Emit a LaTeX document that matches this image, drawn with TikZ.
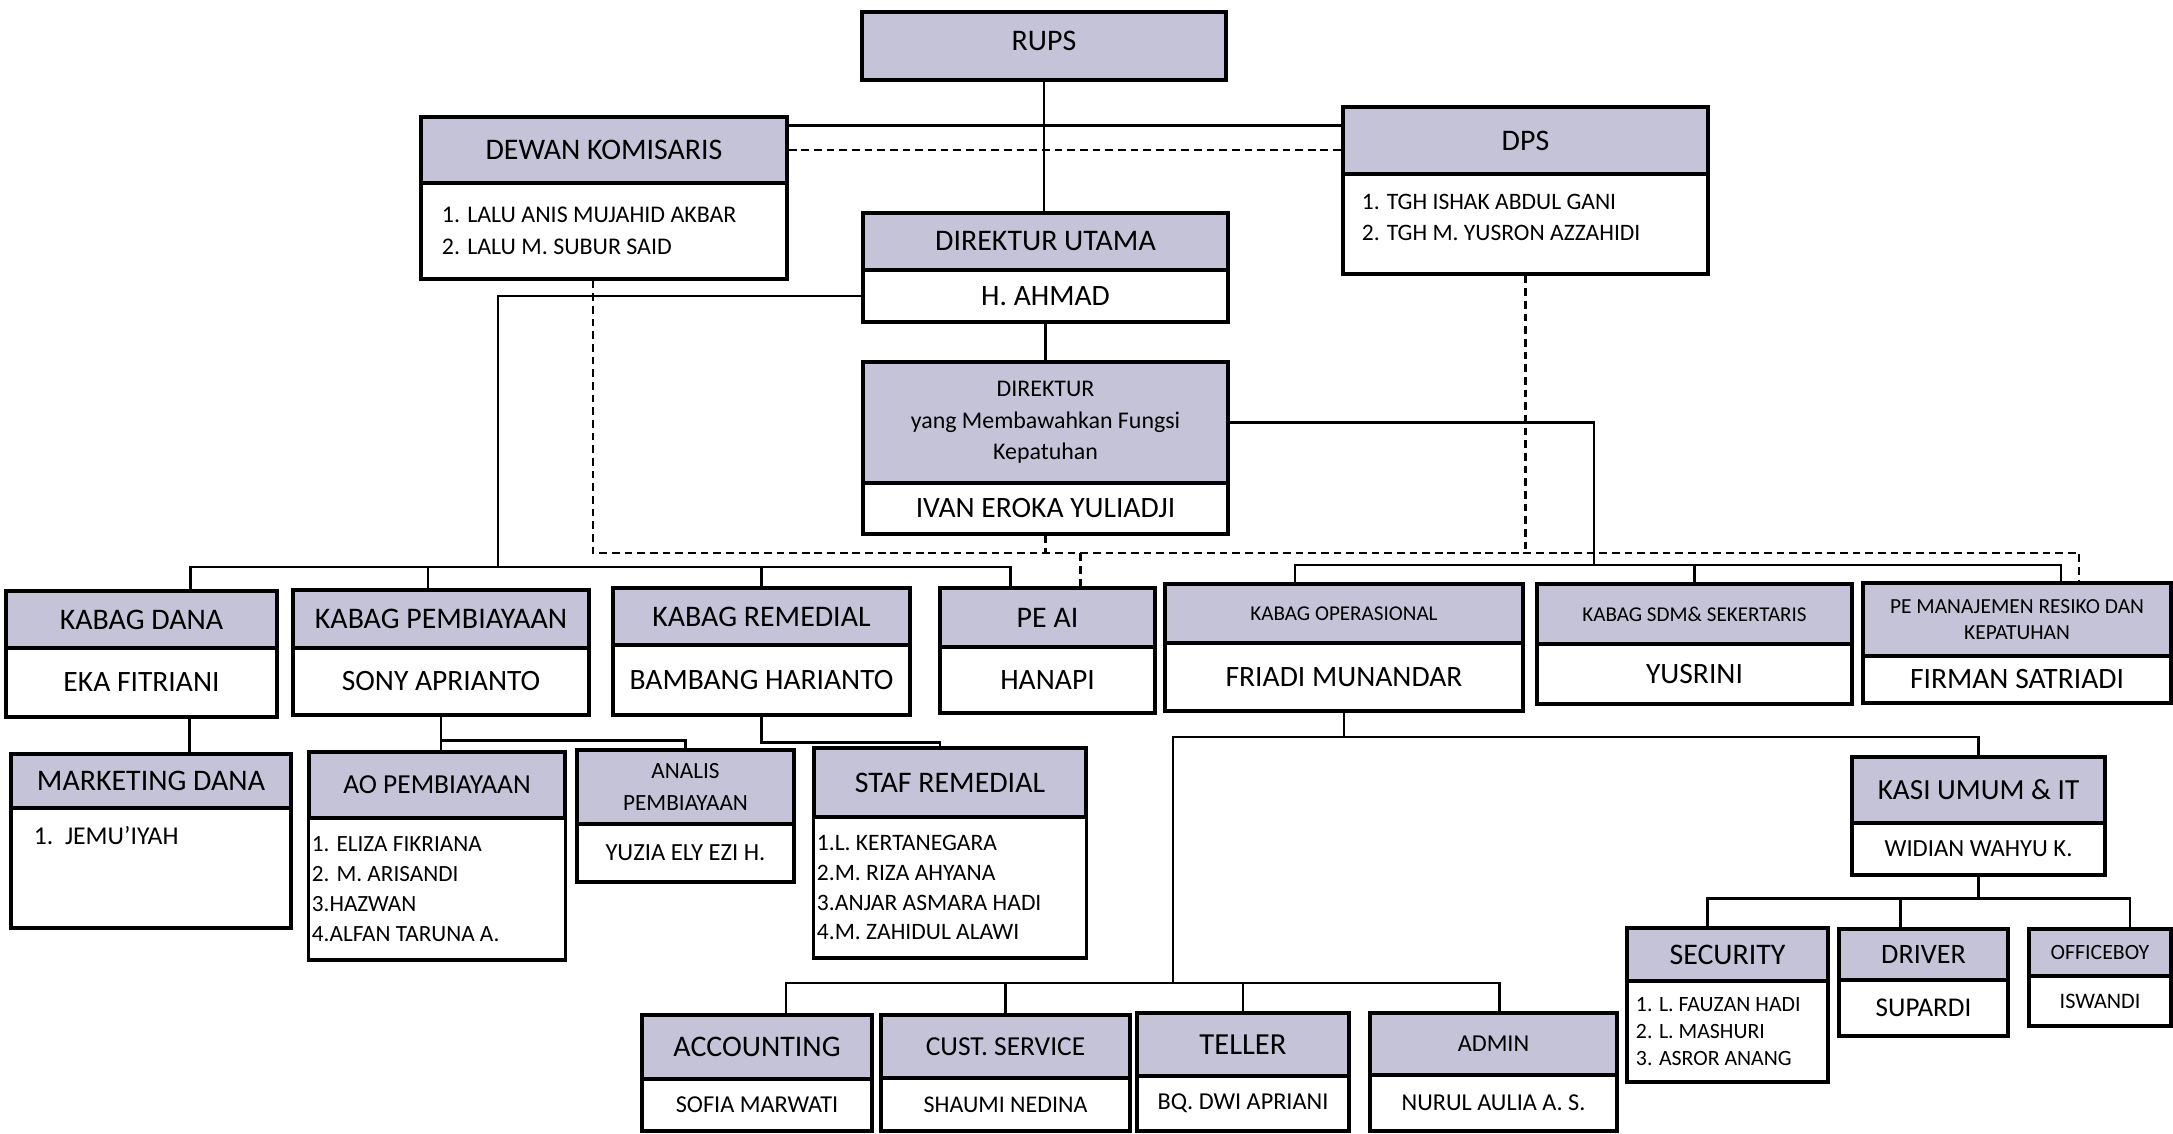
\documentclass[tikz,border=0pt]{standalone}
\usepackage{fontspec}
\setmainfont{Carlito}

\definecolor{headfill}{RGB}{197,195,215}

\tikzset{
  fs/.style 2 args={font=\fontsize{#1}{#2}\selectfont},
  hd/.style={draw, line width=1pt, fill=headfill, inner sep=1pt, align=center, fs={8.5}{10}},
  bd/.style={draw, line width=1pt, fill=white, inner sep=1pt, align=center, fs={8.4}{10}},
  lst/.style={align=flush left, text width=#1},
  headopt/.style={}, bodyopt/.style={},
  con/.style={line width=0.8pt},
  dsh/.style={line width=0.7pt, dash pattern=on 2.2pt off 1.4pt},
}

\newcommand\orgunit[9][]{%
  \begin{scope}[#1]
    \node[hd, minimum width={(#3-#2)*0.01cm}, minimum height={(#5-#4)*0.01cm}, headopt]
      (#7) at ({(#2+#3)/2},{(#4+#5)/2}) {#8};
    \node[bd, minimum width={(#3-#2)*0.01cm}, minimum height={(#6-#5)*0.01cm}, bodyopt]
      (#7b) at ({(#2+#3)/2},{(#5+#6)/2}) {#9};
  \end{scope}}

\begin{document}
\begin{tikzpicture}[x=0.01cm, y=-0.01cm]
  \useasboundingbox (0,0) rectangle (2173,1134);

  \node[hd, minimum width=3.64cm, minimum height=0.68cm, text depth=0.1cm] (rups) at (1044,46) {RUPS};
  \orgunit[bodyopt/.style={lst=3.24cm, fs={6.8}{9}}]{421}{787}{117}{183}{279}{dk}{DEWAN KOMISARIS}{1. LALU ANIS MUJAHID AKBAR\\2. LALU M. SUBUR SAID}
  \orgunit[bodyopt/.style={lst=3.27cm, fs={6.7}{9}, text depth=0.45cm}]{1343}{1708}{107}{174}{274}{dps}{DPS}{1. TGH ISHAK ABDUL GANI\\2. TGH M. YUSRON AZZAHIDI}
  \orgunit{863}{1228}{213}{270}{322}{dirut}{DIREKTUR UTAMA}{H. AHMAD}
  \orgunit[headopt/.style={fs={6.8}{9}}]{863}{1228}{362}{483}{534}{dirkep}{DIREKTUR\\yang Membawahkan Fungsi\\Kepatuhan}{IVAN EROKA YULIADJI}

  % kepala bagian
  \orgunit{6}{277}{591}{648}{717}{kdana}{KABAG DANA}{EKA FITRIANI}
  \orgunit{293}{589}{590}{648}{715}{kpemb}{KABAG PEMBIAYAAN}{SONY APRIANTO}
  \orgunit{613}{910}{588}{645}{715}{kremed}{KABAG REMEDIAL}{BAMBANG HARIANTO}
  \orgunit{940}{1155}{588}{647}{713}{peai}{PE AI}{HANAPI}
  \orgunit[headopt/.style={fs={6}{7.5}}]{1165}{1523}{584}{643}{711}{kops}{KABAG OPERASIONAL}{FRIADI MUNANDAR}
  \orgunit[headopt/.style={fs={6}{7.5}}]{1537}{1852}{584}{644}{704}{ksdm}{KABAG SDM\& SEKERTARIS}{YUSRINI}
  \orgunit[headopt/.style={fs={6.1}{7.6}}]{1863}{2171}{583}{656}{703}{pemr}{PE MANAJEMEN RESIKO DAN\\KEPATUHAN}{FIRMAN SATRIADI}

  % staf
  \orgunit[bodyopt/.style={lst=2.34cm, fs={7.3}{8}, text depth=0.65cm}]{11}{291}{754}{808}{928}{mdana}{MARKETING DANA}{1.\ \ JEMU'IYAH}
  \orgunit[headopt/.style={fs={7.8}{9}}, bodyopt/.style={lst=2.5cm, fs={6.6}{8.5}}]{309}{565}{752}{818}{960}{aopemb}{AO PEMBIAYAAN}{1. ELIZA FIKRIANA\\2. M. ARISANDI\\3.HAZWAN\\4.ALFAN TARUNA A.}
  \orgunit[headopt/.style={fs={6.6}{9}}, bodyopt/.style={fs={7}{8}}]{577}{794}{750}{824}{882}{analis}{ANALIS\\PEMBIAYAAN}{YUZIA ELY EZI H.}
  \orgunit[bodyopt/.style={lst=2.66cm, fs={6.7}{8.5}}]{814}{1086}{748}{817}{958}{staf}{STAF REMEDIAL}{1.L. KERTANEGARA\\2.M. RIZA AHYANA\\3.ANJAR ASMARA HADI\\4.M. ZAHIDUL ALAWI}
  \orgunit[headopt/.style={fs={8.3}{9}}, bodyopt/.style={fs={7}{8}}]{1852}{2105}{757}{823}{875}{kasi}{KASI UMUM \& IT}{WIDIAN WAHYU K.}
  \orgunit[bodyopt/.style={lst=1.83cm, fs={6.2}{7.7}}]{1627}{1828}{928}{981}{1082}{secur}{SECURITY}{1. L. FAUZAN HADI\\2. L. MASHURI\\3. ASROR ANANG}
  \orgunit[headopt/.style={fs={8}{9}}, bodyopt/.style={fs={7.7}{9}}]{1839}{2008}{929}{980}{1036}{driver}{DRIVER}{SUPARDI}
  \orgunit[headopt/.style={fs={6.2}{8}}, bodyopt/.style={fs={6.3}{8}}]{2029}{2171}{929}{976}{1026}{oboy}{OFFICEBOY}{ISWANDI}
  \orgunit[bodyopt/.style={fs={6.9}{8}}]{642}{872}{1015}{1079}{1131}{acc}{ACCOUNTING}{SOFIA MARWATI}
  \orgunit[headopt/.style={fs={7.8}{9}}, bodyopt/.style={fs={6.8}{8}}]{881}{1130}{1015}{1078}{1131}{cs}{CUST. SERVICE}{SHAUMI NEDINA}
  \orgunit[headopt/.style={fs={8.7}{10}}, bodyopt/.style={fs={6.9}{8}}]{1137}{1349}{1013}{1076}{1131}{teller}{TELLER}{BQ. DWI APRIANI}
  \orgunit[headopt/.style={fs={6.9}{8}}, bodyopt/.style={fs={6.9}{8}}]{1370}{1617}{1013}{1075}{1131}{admin}{ADMIN}{NURUL AULIA A. S.}

  \coordinate (busL) at (498,567);
  \coordinate (busR) at (1594,565);
  \coordinate (dline) at (1047,553);
  \coordinate (busO) at (1173,737);
  \coordinate (busB) at (1173,983);

  \draw[con] (rups.south) -- (rups.south |- dirut.north);
  \draw[con] ([yshift=-.1cm]dk.north east) -- ([yshift=-.1cm]dk.north east -| dps.west);
  \draw[dsh] (dk.east) -- (dk.east -| dps.west);
  \draw[con] (dirutb) -- (dirkep);
  \draw[con] (dirutb.west) -| (busL);
  \draw[con] ([xshift=.49cm]kdana.north) |- (busL) -| ([xshift=-.37cm]peai.north);
  \draw[con] ([xshift=-.13cm]kpemb.north) -- ([xshift=-.13cm]kpemb.north |- busL);
  \draw[con] (kremed.north) -- (kremed.north |- busL);
  \draw[con] (dirkep.east) -| (busR);
  \draw[con] ([xshift=-.49cm]kops.north) |- (busR) -| ([xshift=.44cm]pemr.north);
  \draw[con] (ksdm.north) -- (ksdm.north |- busR);

  \draw[dsh] ([xshift=-.11cm]dkb.south) |- (dline) -| ([xshift=.62cm]pemr.north);
  \draw[dsh] (dirkepb.south) -- (dirkepb.south |- dline);
  \draw[dsh] (dpsb.south) -- (dpsb.south |- dline);
  \draw[dsh] ([xshift=.33cm]peai.north) -- ([xshift=.33cm]peai.north |- dline);

  \draw[con] ([xshift=.48cm]kdanab.south) -- ([xshift=.48cm]kdanab.south |- mdana.north);
  \draw[con] (kpembb.south) -- (kpembb.south |- aopemb.north);
  \draw[con] (kpembb.south) -- ++(0,24) -| (analis.north);
  \draw[con] (kremedb.south) -- ++(0,26) -| ([xshift=-.1cm]staf.north);

  \draw[con] (kopsb.south) -- (kopsb.south |- busO);
  \draw[con] (kasi.north) |- (busO) -- (busB);
  \draw[con] ([xshift=.29cm]acc.north) |- (busB) -| ([xshift=.06cm]admin.north);
  \draw[con] (cs.north) -- (cs.north |- busB);
  \draw[con] (teller.north) -- (teller.north |- busB);

  \draw[con] (kasib.south) -- ++(0,22) coordinate (busK);
  \draw[con] ([xshift=-.2cm]secur.north) |- (busK) -| ([xshift=.3cm]oboy.north);
  \draw[con] ([xshift=-.23cm]driver.north) -- ([xshift=-.23cm]driver.north |- busK);
\end{tikzpicture}
\end{document}
